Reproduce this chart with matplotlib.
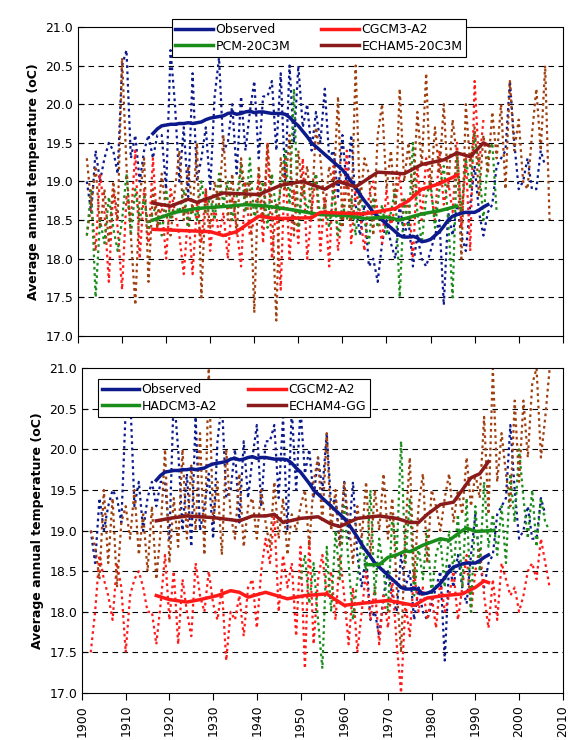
import matplotlib.pyplot as plt
import numpy as np

# observed annual temperature, 1902-2006
obs_years = np.arange(1902, 2007)
obs_annual = [19.0, 18.6, 19.4, 19.0, 19.3, 19.5, 19.4, 19.1, 20.5, 20.7,
              19.3, 19.6, 19.0, 19.4, 19.6, 19.3, 19.6, 19.6, 18.9, 20.7,
              20.0, 19.0, 19.7, 18.8, 20.4, 19.0, 19.3, 19.7, 18.9, 20.1,
              20.6, 19.4, 19.5, 20.0, 19.1, 20.1, 19.4, 19.9, 20.3, 19.3,
              20.1, 20.1, 20.3, 19.4, 20.4, 19.0, 20.5, 19.5, 20.5, 19.7,
              20.0, 19.4, 19.9, 19.5, 20.2, 19.3, 19.4, 18.8, 19.6, 18.9,
              19.6, 18.7, 18.3, 18.7, 17.9, 18.0, 17.7, 18.2, 18.5, 18.2,
              18.0, 18.7, 18.3, 18.5, 17.9, 18.3, 18.0, 17.9, 18.1, 18.3,
              18.5, 17.4, 18.6, 18.3, 18.7, 18.3, 18.1, 18.7, 19.2, 18.6,
              18.3, 18.6, 18.7, 19.2, 19.3, 19.4, 20.3, 19.5, 18.9, 19.0,
              19.3, 18.9, 18.9, 19.4, 19.2]

# observed moving average, 1917-1993
obs_sm_years = np.arange(1917, 1994)
obs_smooth = [19.62, 19.68, 19.72, 19.73, 19.74, 19.74, 19.75, 19.75, 19.76, 19.75,
              19.76, 19.77, 19.80, 19.82, 19.83, 19.84, 19.85, 19.88, 19.89, 19.87,
              19.88, 19.90, 19.91, 19.89, 19.90, 19.90, 19.89, 19.88, 19.88, 19.88,
              19.87, 19.83, 19.77, 19.72, 19.65, 19.58, 19.50, 19.45, 19.40, 19.35,
              19.30, 19.25, 19.20, 19.15, 19.08, 19.00, 18.92, 18.83, 18.75, 18.68,
              18.60, 18.55, 18.50, 18.45, 18.40, 18.35, 18.30, 18.28, 18.28, 18.29,
              18.27, 18.22, 18.23, 18.25, 18.30, 18.35, 18.42, 18.50, 18.55, 18.57,
              18.59, 18.60, 18.60, 18.60, 18.63, 18.67, 18.70]

# top panel models, annual
cgcm3_years = np.arange(1902, 1993)
cgcm3_annual = [18.3, 18.7, 18.1, 19.1, 18.6, 17.7, 18.9, 18.4, 17.6, 18.8,
                18.5, 19.4, 18.0, 18.9, 18.2, 19.3, 18.4, 18.7, 18.0, 18.9,
                18.6, 18.3, 17.8, 18.6, 17.8, 18.7, 18.2, 18.9, 18.1, 18.7,
                18.3, 18.6, 18.0, 18.8, 18.4, 17.9, 19.0, 18.3, 18.5, 19.1,
                18.2, 19.5, 18.0, 18.7, 17.6, 19.3, 18.0, 18.9, 18.2, 19.3,
                18.0, 18.6, 19.1, 18.1, 18.8, 17.9, 19.2, 18.1, 18.6, 19.4,
                18.2, 18.9, 18.6, 18.1, 18.8, 19.0, 18.6, 18.2, 18.9, 18.4,
                18.7, 19.1, 18.4, 18.8, 18.0, 19.2, 18.5, 19.3, 18.9, 18.5,
                19.4, 18.7, 19.0, 18.6, 19.5, 18.4, 19.3, 18.1, 20.3, 19.2, 19.8]
pcm_years = np.arange(1902, 1996)
pcm_annual = [18.3, 18.9, 17.5, 18.5, 18.2, 18.8, 18.4, 18.1, 18.5, 19.1,
              18.3, 18.9, 18.5, 18.8, 18.4, 18.6, 18.7, 18.3, 18.9, 18.5,
              18.7, 18.6, 18.9, 18.4, 18.7, 18.5, 19.0, 18.6, 18.8, 18.5,
              19.1, 18.7, 19.0, 18.5, 18.8, 19.2, 18.6, 19.3, 18.5, 18.8,
              19.0, 18.4, 19.1, 18.6, 18.9, 19.4, 18.7, 20.2, 18.4, 19.0,
              18.6, 18.9, 19.1, 18.5, 18.7, 18.4, 18.9, 18.3, 18.7, 18.5,
              18.8, 18.3, 18.9, 18.5, 18.2, 18.8, 18.4, 18.7, 18.3, 18.6,
              18.9, 17.5, 18.8, 18.4, 19.5, 18.6, 18.2, 18.8, 19.0, 18.4,
              18.9, 19.2, 18.5, 17.5, 19.4, 18.6, 19.3, 18.9, 19.6, 19.2,
              18.5, 19.3, 19.5, 18.6]
echam5_years = np.arange(1902, 2008)
echam5_annual = [19.3, 18.7, 19.2, 18.4, 18.9, 18.2, 19.0, 18.5, 20.6, 19.2,
                 18.3, 17.4, 18.8, 19.3, 17.7, 18.9, 18.4, 19.1, 18.6, 18.3,
                 18.9, 19.4, 18.5, 19.2, 18.6, 19.5, 17.5, 18.9, 18.4, 19.0,
                 18.7, 19.6, 18.5, 19.1, 18.3, 19.3, 18.8, 19.0, 17.3, 19.2,
                 18.5, 19.5, 18.7, 17.2, 19.3, 18.9, 19.6, 18.3, 19.4, 18.8,
                 19.2, 18.6, 19.7, 19.3, 18.6, 19.2, 18.9, 20.1, 18.4, 19.0,
                 18.5, 20.5, 18.7, 19.3, 19.1, 18.3, 19.6, 20.0, 18.9, 19.4,
                 18.6, 20.2, 19.0, 19.5, 18.8, 19.9, 19.2, 20.4, 18.9, 19.7,
                 19.1, 20.0, 18.9, 19.8, 19.3, 18.0, 20.0, 19.2, 19.7, 18.8,
                 19.6, 19.1, 19.9, 19.3, 20.0, 18.9, 20.3, 19.4, 19.8, 19.0,
                 18.9, 19.6, 20.2, 19.4, 20.5, 18.5]

# top panel smoothed (year, value)
cgcm3_sm_years = [1917, 1930, 1933, 1936, 1941, 1945, 1953, 1955, 1965, 1972, 1975, 1978, 1982, 1986]
cgcm3_smooth = [18.38, 18.35, 18.30, 18.35, 18.55, 18.52, 18.53, 18.60, 18.58, 18.65, 18.75, 18.90, 18.97, 19.08]
pcm_sm_years = [1917, 1922, 1927, 1934, 1938, 1943, 1949, 1955, 1961, 1965, 1970, 1973, 1978, 1982, 1986]
pcm_smooth = [18.50, 18.60, 18.65, 18.68, 18.70, 18.68, 18.63, 18.57, 18.56, 18.52, 18.54, 18.50, 18.58, 18.62, 18.68]
echam5_sm_years = [1917, 1921, 1925, 1927, 1933, 1941, 1946, 1951, 1956, 1959, 1963, 1968, 1974, 1978, 1983, 1986, 1989, 1992, 1993]
echam5_smooth = [18.72, 18.68, 18.77, 18.73, 18.85, 18.83, 18.95, 19.00, 18.90, 19.00, 18.93, 19.12, 19.10, 19.22, 19.28, 19.37, 19.32, 19.50, 19.47]

# bottom panel models, annual
cgcm2_years = np.arange(1902, 2008)
cgcm2_annual = [17.5, 18.0, 18.7, 18.4, 18.2, 17.9, 18.6, 18.3, 17.5, 18.2,
                18.4, 18.5, 18.3, 18.0, 18.0, 17.6, 18.1, 18.7, 17.9, 18.5,
                17.6, 18.4, 18.0, 17.7, 18.6, 18.2, 18.0, 18.5, 18.1, 17.9,
                18.3, 17.4, 18.0, 17.9, 18.2, 17.7, 18.3, 18.4, 17.8, 18.5,
                18.9, 18.6, 19.2, 18.0, 18.7, 18.3, 18.6, 17.7, 18.8, 17.3,
                18.9, 17.6, 18.4, 18.7, 18.2, 18.5, 17.9, 18.7, 18.2, 17.6,
                18.3, 17.5, 18.0, 18.5, 17.9, 18.3, 17.6, 18.2, 17.8, 18.4,
                17.6, 17.0, 18.1, 17.7, 18.5, 18.0, 18.3, 17.9, 18.2, 17.8,
                18.4, 18.0, 18.2, 18.5, 17.9, 18.3, 18.7, 18.0, 18.5, 18.8,
                18.2, 17.8, 18.4, 17.9, 18.6, 18.4, 18.2, 18.3, 18.0, 18.2,
                18.5, 18.6, 18.4, 18.9, 18.6, 18.3]
hadcm3_years = np.arange(1950, 2008)
hadcm3_annual = [18.4, 18.7, 18.1, 18.6, 17.9, 17.3, 18.8, 18.0, 19.0, 18.4,
                 19.3, 18.6, 17.9, 18.4, 18.9, 18.5, 19.5, 18.2, 18.9, 18.5,
                 18.0, 19.2, 18.7, 20.1, 18.6, 19.4, 18.2, 18.8, 18.4, 19.0,
                 18.2, 18.7, 18.9, 18.3, 19.0, 18.5, 19.2, 18.3, 19.4, 18.0,
                 19.3, 18.5, 19.6, 18.8, 19.2, 18.7, 19.3, 18.6, 19.7, 19.1,
                 20.0, 19.4, 18.9, 19.5, 18.8, 19.4, 19.1, 19.0]
echam4_years = np.arange(1902, 2008)
echam4_annual = [19.0, 18.8, 18.4, 19.5, 18.6, 19.4, 18.3, 19.1, 19.3, 18.9,
                 19.5, 18.7, 19.2, 18.5, 19.3, 18.4, 19.0, 20.0, 18.6, 19.4,
                 18.8, 20.0, 18.9, 19.8, 19.0, 20.2, 18.7, 21.0, 19.1, 19.6,
                 18.7, 20.0, 19.2, 18.9, 19.7, 18.8, 19.3, 19.4, 18.9, 19.5,
                 19.1, 18.8, 19.6, 18.9, 19.4, 18.7, 19.2, 19.0, 19.3, 19.5,
                 18.8, 19.6, 19.9, 19.1, 20.2, 19.0, 19.5, 18.8, 19.6, 19.1,
                 18.6, 19.3, 18.9, 19.6, 18.7, 19.5, 19.0, 19.7, 18.9, 19.4,
                 18.3, 17.5, 19.0, 19.9, 18.4, 19.3, 19.7, 18.6, 19.5, 19.3,
                 19.0, 19.4, 19.7, 19.1, 19.5, 19.2, 19.9, 19.3, 19.7, 19.4,
                 20.4, 19.2, 21.0, 19.6, 20.2, 19.7, 19.3, 20.6, 19.6, 20.6,
                 19.9, 20.8, 21.0, 19.9, 20.4, 21.0]

# bottom panel smoothed
cgcm2_sm_years = [1917, 1920, 1924, 1927, 1931, 1934, 1936, 1938, 1942, 1947, 1951, 1956, 1958, 1960, 1965, 1970, 1976, 1979, 1983, 1987, 1990, 1992, 1993]
cgcm2_smooth = [18.20, 18.15, 18.12, 18.15, 18.20, 18.26, 18.24, 18.18, 18.24, 18.16, 18.20, 18.22, 18.15, 18.08, 18.11, 18.14, 18.08, 18.17, 18.20, 18.22, 18.30, 18.38, 18.36]
hadcm3_sm_years = [1965, 1968, 1970, 1972, 1974, 1975, 1978, 1982, 1984, 1987, 1988, 1990, 1994]
hadcm3_smooth = [18.58, 18.58, 18.67, 18.70, 18.75, 18.74, 18.82, 18.90, 18.88, 19.00, 19.03, 18.99, 19.00]
echam4_sm_years = [1917, 1920, 1924, 1930, 1936, 1939, 1942, 1944, 1946, 1950, 1954, 1957, 1959, 1963, 1968, 1972, 1975, 1977, 1979, 1982, 1985, 1987, 1989, 1991, 1993]
echam4_smooth = [19.12, 19.15, 19.18, 19.16, 19.12, 19.18, 19.18, 19.20, 19.10, 19.15, 19.17, 19.08, 19.05, 19.15, 19.18, 19.15, 19.10, 19.10, 19.20, 19.32, 19.35, 19.50, 19.65, 19.70, 19.85]

NAVY = '#0d1a8c'
RED = '#ff1a1a'
GREEN = '#1a8c1a'
BROWN = '#8b1a1a'
DOT_BROWN = '#a04010'

fig = plt.figure(figsize=(5.71, 7.40), dpi=100)
ax1 = fig.add_axes([0.1366, 0.546, 0.849, 0.4176])
ax2 = fig.add_axes([0.1436, 0.0635, 0.842, 0.439])


def setup(ax):
    ax.set_xlim(1900, 2010)
    ax.set_ylim(17.0, 21.0)
    ax.set_xticks(np.arange(1900, 2011, 10))
    ax.set_yticks(np.arange(17.0, 21.01, 0.5))
    ax.set_yticklabels([f'{v:.1f}' for v in np.arange(17.0, 21.01, 0.5)], fontsize=9)
    for v in np.arange(17.5, 20.6, 0.5):
        ax.axhline(v, color='black', lw=0.8, ls=(0, (5, 4)), zorder=0)
    ax.set_ylabel('Average annual temperature (oC)', fontsize=9, fontweight='bold')
    ax.tick_params(direction='in', length=4)
    ax.tick_params(axis='x', direction='out', length=5)


dots = dict(ls=(0, (1.2, 1.6)), lw=1.6)
solid = dict(lw=2.5)

# top panel
ax1.plot(obs_years, obs_annual, color=NAVY, **dots)
ax1.plot(cgcm3_years, cgcm3_annual, color=RED, **dots)
ax1.plot(pcm_years, pcm_annual, color=GREEN, **dots)
ax1.plot(echam5_years, echam5_annual, color=DOT_BROWN, **dots)
ax1.plot(obs_sm_years, obs_smooth, color=NAVY, label='Observed', **solid)
ax1.plot(pcm_sm_years, pcm_smooth, color=GREEN, label='PCM-20C3M', **solid)
ax1.plot(cgcm3_sm_years, cgcm3_smooth, color=RED, label='CGCM3-A2', **solid)
ax1.plot(echam5_sm_years, echam5_smooth, color=BROWN, label='ECHAM5-20C3M', **solid)
setup(ax1)
ax1.set_xticklabels([])
leg1 = ax1.legend(ncol=2, loc='upper left', bbox_to_anchor=(0.18, 1.045), fontsize=9,
                  frameon=True, fancybox=False, edgecolor='black', handlelength=3,
                  borderpad=0.3, labelspacing=0.3, columnspacing=2.5, handletextpad=0.2,
                  framealpha=1)
leg1.get_frame().set_linewidth(0.8)

# bottom panel
ax2.plot(obs_years, obs_annual, color=NAVY, **dots)
ax2.plot(cgcm2_years, cgcm2_annual, color=RED, **dots)
ax2.plot(hadcm3_years, hadcm3_annual, color=GREEN, **dots)
ax2.plot(echam4_years, echam4_annual, color=DOT_BROWN, **dots)
ax2.plot(obs_sm_years, obs_smooth, color=NAVY, label='Observed', **solid)
ax2.plot(hadcm3_sm_years, hadcm3_smooth, color=GREEN, label='HADCM3-A2', **solid)
ax2.plot(cgcm2_sm_years, cgcm2_smooth, color=RED, label='CGCM2-A2', **solid)
ax2.plot(echam4_sm_years, echam4_smooth, color=BROWN, label='ECHAM4-GG', **solid)
setup(ax2)
ax2.set_xticklabels([str(y) for y in range(1900, 2011, 10)], rotation=90, fontsize=9)
leg2 = ax2.legend(ncol=2, loc='upper left', bbox_to_anchor=(0.02, 0.985), fontsize=9,
                  frameon=True, fancybox=False, edgecolor='black', handlelength=3,
                  borderpad=0.3, labelspacing=0.3, columnspacing=2.5, handletextpad=0.2,
                  framealpha=1)
leg2.get_frame().set_linewidth(0.8)

fig.savefig('out.png', dpi=100)
